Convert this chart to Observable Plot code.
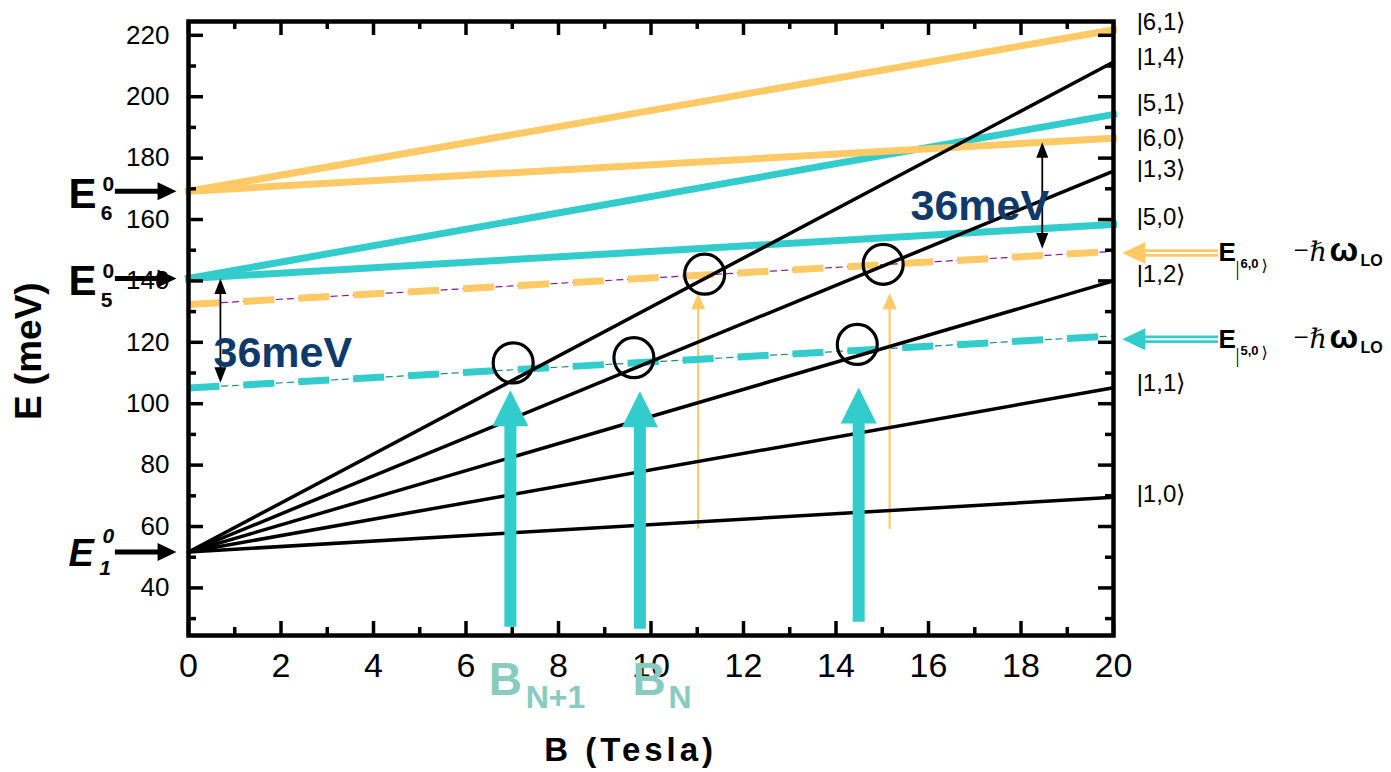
<!DOCTYPE html>
<html><head><meta charset="utf-8">
<script src="https://cdn.jsdelivr.net/npm/d3@7"></script>
<script src="https://cdn.jsdelivr.net/npm/@observablehq/plot@0.6"></script>
<style>html,body{margin:0;padding:0;background:#fff}svg{display:block}</style>
</head><body><div id="chart"></div>
<script>
// ---------------- data ----------------
const fieldRange = [0, 20];
const levelNames   = ["|1,0⟩","|1,1⟩","|1,2⟩","|1,3⟩","|1,4⟩","|5,0⟩","|5,1⟩","|6,0⟩","|6,1⟩"];
const levelSubband = ["1","1","1","1","1","5","5","6","6"];
const levelE0      = [51.7, 51.7, 51.7, 51.7, 51.7, 140.8, 140.8, 169.2, 169.2];
const levelE20     = [69.5, 105.2, 140.0, 175.8, 211.3, 158.4, 194.2, 186.5, 221.8];

const phononSubband = ["6","5"];
const phononE0  = [132.3, 105.1];
const phononE20 = [149.6, 122.1];

const resonanceB = [7.02, 9.63, 14.46, 11.16, 15.02];
const resonanceE = [113.3, 115.0, 119.3, 142.2, 145.4];

const cyanArrowB      = [6.96, 9.76, 14.49];
const cyanArrowTop    = [104.4, 104.1, 105.3];
const cyanArrowBottom = [27.2, 26.5, 28.8];

const orangeArrowB      = [11.02, 15.16];
const orangeArrowTop    = [136, 136];
const orangeArrowBottom = [59.1, 59.1];

const gapB      = [0.69, 18.46];
const gapTop    = [140.8, 185.2];
const gapBottom = [106.8, 150.5];
const gapText   = ["36meV", "36meV"];
const gapTextB  = [0.54, 15.61];
const gapTextE  = [111.9, 159.7];

const edgeSub = ["6", "5", "1"];
const edgeE   = [169.2, 140.8, 51.7];

const sideArrowE = [149.1, 121.0];
const sideSub    = ["6,0", "5,0"];

const ketLabels = ["|6,1⟩","|1,4⟩","|5,1⟩","|6,0⟩","|1,3⟩","|5,0⟩","|1,2⟩","|1,1⟩","|1,0⟩"];
const ketLabelE = [221.6, 210.2, 195.5, 184.1, 173.7, 158.1, 139.5, 104.1, 67.9];

const xMajorTicks = [0,2,4,6,8,10,12,14,16,18,20];
const xMinorTicks = [1,3,5,7,9,11,13,15,17,19];
const yMajorTicks = [40,60,80,100,120,140,160,180,200,220];
const yMinorTicks = [30,50,70,90,110,130,150,170,190,210];

// ---------------- styling ----------------
const FONT = "'Liberation Sans', Arial, Helvetica, sans-serif";
const SERIF = "'DejaVu Serif', 'Liberation Serif', serif";
const LSERIF = "'Liberation Serif', 'DejaVu Serif', serif";
const CYAN = "#33CCCC", ORANGE = "#FFC966", TEAL_TXT = "#88CCC0", NAVY = "#0D3A6B";
const colorOf = {"1": "black", "5": CYAN, "6": ORANGE};
const W = 1391, H = 772, ML = 188, MR = 278, MT = 21, MB = 137;
const PW = W - ML - MR, PH = H - MT - MB;

// ---------------- derived tables ----------------
const levelPts = levelNames.flatMap((name, i) => fieldRange.map((B, j) => ({
  name, sub: levelSubband[i], B, E: j === 0 ? levelE0[i] : levelE20[i]})));
const phononPts = phononSubband.flatMap((sub, i) => fieldRange.map((B, j) => ({
  sub, B, E: j === 0 ? phononE0[i] : phononE20[i]})));
const resonances = resonanceB.map((B, i) => ({B, E: resonanceE[i]}));
const cyanArrows = cyanArrowB.map((B, i) => ({B, top: cyanArrowTop[i], bottom: cyanArrowBottom[i]}));
const orangeArrows = orangeArrowB.map((B, i) => ({B, top: orangeArrowTop[i], bottom: orangeArrowBottom[i]}));
const gaps = gapB.map((B, i) => ({B, top: gapTop[i], bottom: gapBottom[i], t: gapText[i], tB: gapTextB[i], tE: gapTextE[i]}));
const edges = edgeSub.map((s, i) => ({s, E: edgeE[i]}));
const sides = sideArrowE.map((E, i) => ({E, sub: sideSub[i], color: i === 0 ? ORANGE : CYAN}));
const kets = ketLabels.map((t, i) => ({t, E: ketLabelE[i]}));

// arrow-head symbol: tip at origin, pointing up
const head = (aspect) => ({
  draw(ctx, size) {
    const r = Math.sqrt(size / Math.PI);
    ctx.moveTo(0, 0); ctx.lineTo(r, aspect * r); ctx.lineTo(-r, aspect * r); ctx.closePath();
  }
});

const label = (t, B, E, o = {}) => Plot.text([{t, B, E}], {
  x: "B", y: "E", text: "t", textAnchor: "start", lineAnchor: "bottom",
  fontFamily: FONT, fill: "black", ...o});

// ---------------- rich labels ----------------
const richMarks = [];
// sub-band edges on the left
edges.forEach((d) => {
  const italic = d.s === "1";
  const st = italic ? "italic" : "normal";
  richMarks.push(label("E", -2.595, d.E, {fontSize: italic ? 38 : 42, fontWeight: "bold", fontStyle: st, dy: italic ? 14 : 17}));
  richMarks.push(label("0", -1.86, d.E, {fontSize: 21, fontWeight: "bold", fontStyle: st, dy: italic ? -9 : 0}));
  richMarks.push(label(d.s, italic ? -1.93 : -1.9, d.E, {fontSize: 21, fontWeight: "bold", fontStyle: st, dy: italic ? 23 : 29}));
});
// phonon-replica labels on the right
sides.forEach((d) => {
  const B0 = 22.27, E0 = d.E - 1.1;
  richMarks.push(label("E", B0, E0, {fontSize: 26, fontWeight: "bold", dy: 5}));
  richMarks.push(label("|", B0, E0, {fontSize: 20, dx: 17, dy: 19, fontFamily: LSERIF}));
  richMarks.push(label(d.sub, B0, E0, {fontSize: 13, fontWeight: "bold", dx: 22, dy: 12}));
  richMarks.push(label("⟩", B0, E0, {fontSize: 16, dx: 43, dy: 15, fontFamily: SERIF}));
  richMarks.push(label("−", B0, E0, {fontSize: 27, dx: 75, dy: 3, fontFamily: LSERIF}));
  richMarks.push(label("ℏ", B0, E0, {fontSize: 27, dx: 91, dy: 5, fontFamily: SERIF, fontStyle: "italic"}));
  richMarks.push(label("ω", B0, E0, {fontSize: 34, fontWeight: "bold", dx: 111, dy: 5}));
  richMarks.push(label("LO", B0, E0, {fontSize: 16, fontWeight: "bold", dx: 142, dy: 10}));
});

// ---------------- chart ----------------
const chart = Plot.plot({
  width: W, height: H,
  marginLeft: ML, marginRight: MR, marginTop: MT, marginBottom: MB,
  x: {domain: [0, 20]},
  y: {domain: [24.5, 224.5]},
  style: {fontFamily: FONT, background: "white", color: "black"},
  marks: [
    // thin guide lines under the dashed replicas
    Plot.line(phononPts, {x: "B", y: "E", z: "sub", stroke: d => d.sub === "6" ? "#8B1A8B" : "#1A8A8A",
      strokeWidth: 1.2, strokeDasharray: "6,5"}),
    // orange thin excitation arrows
    Plot.ruleX(orangeArrows, {x: "B", y1: "bottom", y2: d => d.top - 3, stroke: ORANGE, strokeWidth: 2.2}),
    Plot.dot(orangeArrows, {x: "B", y: "top", r: 7, symbol: head(2.3), fill: ORANGE, stroke: null}),
    // coloured (excited subband) levels
    Plot.line(levelPts.filter(d => d.sub !== "1"), {x: "B", y: "E", z: "name",
      stroke: d => colorOf[d.sub], strokeWidth: 7, strokeLinecap: "square"}),
    // dashed replicas E - ħωLO
    Plot.line(phononPts, {x: "B", y: "E", z: "sub", stroke: d => colorOf[d.sub],
      strokeWidth: 7, strokeDasharray: "31,24", strokeLinecap: "butt"}),
    // ground subband Landau levels
    Plot.line(levelPts.filter(d => d.sub === "1"), {x: "B", y: "E", z: "name",
      stroke: "black", strokeWidth: 3.5}),
    // resonance circles
    Plot.dot(resonances, {x: "B", y: "E", r: 20, stroke: "black", strokeWidth: 3.2, fill: "none"}),
    // big cyan arrows
    Plot.ruleX(cyanArrows, {x: "B", y1: "bottom", y2: d => d.top - 10, stroke: CYAN, strokeWidth: 12}),
    Plot.dot(cyanArrows, {x: "B", y: "top", r: 18, symbol: head(2), fill: CYAN, stroke: null}),
    // 36 meV gap arrows
    Plot.ruleX(gaps, {x: "B", y1: d => d.bottom + 3, y2: d => d.top - 3, stroke: "black", strokeWidth: 1.8}),
    Plot.dot(gaps, {x: "B", y: "top", r: 6, symbol: head(2.6), fill: "black", stroke: null}),
    Plot.dot(gaps, {x: "B", y: "bottom", r: 6, symbol: head(2.6), rotate: 180, fill: "black", stroke: null}),
    Plot.text(gaps, {x: "tB", y: "tE", text: "t", textAnchor: "start", lineAnchor: "bottom",
      fontSize: 43, fontWeight: "bold", fill: NAVY, fontFamily: FONT}),
    // frame and inward ticks
    Plot.frame({stroke: "black", strokeWidth: 4.5}),
    Plot.ruleY(yMajorTicks, {insetRight: PW - 15, strokeWidth: 3.5}),
    Plot.ruleY(yMinorTicks, {insetRight: PW - 8, strokeWidth: 3.5}),
    Plot.ruleY(yMajorTicks, {insetLeft: PW - 15, strokeWidth: 3.5}),
    Plot.ruleY(yMinorTicks, {insetLeft: PW - 8, strokeWidth: 3.5}),
    Plot.ruleX(xMajorTicks, {insetTop: PH - 14, strokeWidth: 3.5}),
    Plot.ruleX(xMinorTicks, {insetTop: PH - 8, strokeWidth: 3.5}),
    Plot.ruleX(xMajorTicks, {insetBottom: PH - 14, strokeWidth: 3.5}),
    Plot.ruleX(xMinorTicks, {insetBottom: PH - 8, strokeWidth: 3.5}),
    Plot.axisX({ticks: xMajorTicks, tickSize: 0, tickPadding: 17, fontSize: 34, label: null, tickFormat: d => String(d)}),
    Plot.axisY({ticks: yMajorTicks, tickSize: 0, tickPadding: 19, fontSize: 26, label: null, tickFormat: d => String(d)}),
    // axis titles
    Plot.text(["B (Tesla)"], {x: () => 9.56, y: () => -16.4, text: d => d, textAnchor: "middle", lineAnchor: "bottom",
      fontSize: 33, fontWeight: "bold", fontFamily: FONT}),
    Plot.text(["E (meV)"], {x: () => -3.44, y: () => 117.1, text: d => d, rotate: -90, textAnchor: "middle",
      lineAnchor: "middle", fontSize: 37, fontWeight: "bold", fontFamily: FONT}),
    // B_{N+1}, B_N
    label("B", 6.49, 5.1, {fontSize: 46, fontWeight: "bold", fill: TEAL_TXT}),
    label("N+1", 7.29, 0.9, {fontSize: 32, fontWeight: "bold", fill: TEAL_TXT}),
    label("B", 9.6, 5.1, {fontSize: 46, fontWeight: "bold", fill: TEAL_TXT}),
    label("N", 10.38, 0.9, {fontSize: 32, fontWeight: "bold", fill: TEAL_TXT}),
    // subband edge arrows (left)
    Plot.ruleY(edges, {y: "E", x1: () => -1.58, x2: () => -0.6, stroke: "black", strokeWidth: 5}),
    Plot.dot(edges, {x: () => -0.26, y: "E", r: 9, symbol: head(2.1), rotate: 90, fill: "black", stroke: null}),
    // replica arrows (right)
    Plot.ruleY(sides, {y: "E", x1: () => 20.6, x2: () => 22.27, stroke: "color", strokeWidth: 7.5,
      strokeDasharray: d => d.color === ORANGE ? "7,3.5" : null}),
    Plot.ruleY(sides, {y: "E", x1: () => 20.6, x2: () => 22.3, stroke: "white", strokeWidth: 2.2}),
    Plot.dot(sides, {x: () => 20.19, y: "E", r: 11, symbol: head(2.1), rotate: -90, fill: "color", stroke: null}),
    // ket labels
    Plot.text(kets, {x: () => 20.5, y: "E", text: "t", textAnchor: "start", lineAnchor: "bottom",
      fontSize: 24, fontFamily: FONT}),
    ...richMarks
  ]
});

d3.select(chart).selectAll("text").filter(function() { return this.textContent === "B (Tesla)"; })
  .attr("letter-spacing", "4px");
document.getElementById("chart").appendChild(chart);
</script>
</body></html>
